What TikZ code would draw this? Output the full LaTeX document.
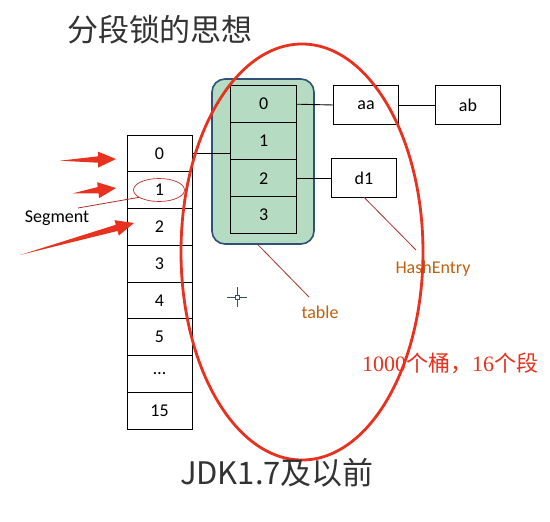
\documentclass[tikz,border=0pt]{standalone}
\usepackage{fontspec}
\setmainfont{Carlito}
\newfontfamily\cjk{Noto Sans CJK SC}
\newfontfamily\serifnum{Liberation Serif}
\usetikzlibrary{calc,positioning,shapes.geometric}

\definecolor{tblgreen}{HTML}{B5DCC3}
\definecolor{tblblue}{HTML}{2F5175}
\definecolor{markred}{HTML}{E8321F}
\definecolor{notered}{HTML}{A8322A}
\definecolor{noteorange}{HTML}{C0600F}
\definecolor{titlegray}{HTML}{333333}

% tapered red arrow: #1 tail, #2 tip
\newcommand{\segarrow}[2]{%
  \coordinate (hb) at ($(#2)!18pt!(#1)$);
  \fill[markred] (#1) -- ($(hb)!3.2pt!90:(#2)$) -- ($(hb)!8pt!90:(#2)$) -- (#2)
    -- ($(hb)!8pt!-90:(#2)$) -- ($(hb)!3.2pt!-90:(#2)$) -- cycle;}

\begin{document}
\begin{tikzpicture}[
  x=1pt, y=-1pt,
  node distance=0pt,
  cell/.style={draw, line width=0.9pt, outer sep=0pt, inner sep=0pt,
    minimum width=65pt, minimum height=36.75pt, font=\fontsize{18}{20}\selectfont},
  bucket/.style={cell, fill=tblgreen, minimum width=66pt, minimum height=37pt},
  entry/.style={cell, minimum height=38.5pt},
  link/.style={line width=0.9pt},
  note/.style={notered, line width=0.8pt},
  notetext/.style={text=noteorange, font=\fontsize{18}{20}\selectfont},
  bigtitle/.style={text=titlegray, font=\cjk\fontsize{31}{34}\selectfont}
]
\useasboundingbox[fill=white] (0,0) rectangle (550,522);

\node[bigtitle] (title) at (160,30) {分段锁的思想};

% segments
\node[cell] (s0) at (159.5,153.4) {0};
\node[cell, below=of s0] (s1) {1};
\node[cell, below=of s1] (s2) {2};
\node[cell, below=of s2] (s3) {3};
\node[cell, below=of s3] (s4) {4};
\node[cell, below=of s4] (s5) {5};
\node[cell, below=of s5] (s6) {\dots};
\node[cell, below=of s6] (s7) {15};

% table of buckets
\node[draw=tblblue, fill=tblgreen, line width=1.6pt, rounded corners=13pt,
  minimum width=102pt, minimum height=165pt] (tbl) at (263,161.5) {};
\node[bucket] (tc0) at (263.7,104.2) {0};
\node[bucket, below=of tc0] (tc1) {1};
\node[bucket, below=of tc1] (tc2) {2};
\node[bucket, below=of tc2] (tc3) {3};

% hash entries
\node[entry] (aa) at (366,105) {aa};
\node[entry] (ab) at (468,105) {ab};
\node[entry] (d1) at (364,178) {d1};

\draw[link] (s0.east) -- (s0.east -| tc1.west);
\draw[link] (tc0.east) -- (aa.west);
\draw[link] (aa.east) -- (ab.west);
\draw[link] (tc2.east |- d1.west) -- (d1.west);

% notes
\node[notetext] (tbllabel) at (320,312) {table};
\node[notetext] (hashlabel) at (433,269) {HashEntry};
\coordinate (tblend) at (309,297);
\coordinate (hashend) at (416,250);
\draw[note] ([xshift=-5pt]tbl.south) -- (tblend);
\draw[note] (d1.south) -- (hashend);

\node[text=markred, font=\fontsize{22}{24}\selectfont] (count) at (450,363)
  {{\serifnum 1000}{\cjk 个桶，}{\serifnum 16}{\cjk 个段}};

% segment marks
\node[draw=notered!60!markred, line width=0.7pt, ellipse, inner sep=0pt,
  minimum width=51pt, minimum height=23pt] (ring) at (159,190) {};
\node[font=\fontsize{18}{20}\selectfont] (seglabel) at (57,218) {Segment};
\coordinate (segtip) at (78,208);
\draw[note] (segtip) -- (ring.200);

\coordinate (t1) at (60,160.7);
\coordinate (h1) at (116,159);
\coordinate (t2) at (73,193.3);
\coordinate (h2) at (116,188);
\coordinate (t3) at (20,255);
\coordinate (h3) at (134,223);
\segarrow{t1}{h1}
\segarrow{t2}{h2}
\segarrow{t3}{h3}

% big ring
\draw[markred, line width=2.8pt] (302,252) ellipse [x radius=121pt, y radius=208pt];

% cursor
\begin{scope}[tblblue, line width=1pt]
  \draw (227,297) -- (234.5,297) (239.5,297) -- (247,297);
  \draw (237,287) -- (237,294.5) (237,299.5) -- (237,307);
  \draw (235,295) rectangle (239,299);
\end{scope}

\node[bigtitle] (jdk) at (277,473) {JDK1.7及以前};
\end{tikzpicture}
\end{document}
